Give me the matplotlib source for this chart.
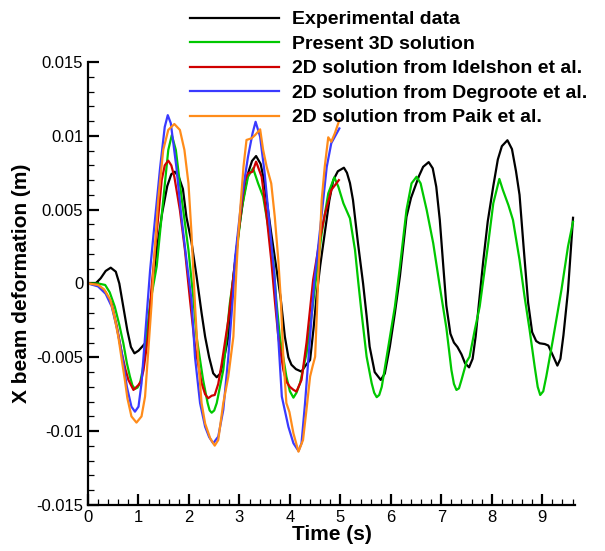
"""
Beam X deformation vs time: experiment against 3D and 2D solutions.
"""
import matplotlib
matplotlib.use("Agg")
import matplotlib.pyplot as plt
from matplotlib.ticker import MultipleLocator, FuncFormatter

plt.rcParams["font.family"] = ["Liberation Sans", "DejaVu Sans"]
plt.rcParams["axes.unicode_minus"] = False

# deformation values are read in units of 1e-3 m
t_exp = [0.0, 0.15, 0.25, 0.35, 0.45, 0.55, 0.62, 0.7, 0.78, 0.85,
         0.92, 1.0, 1.08, 1.13, 1.2, 1.28, 1.37, 1.47, 1.57, 1.65,
         1.72, 1.8, 1.88, 1.95, 2.05, 2.15, 2.25, 2.32, 2.4, 2.48,
         2.55, 2.62, 2.7, 2.78, 2.88, 2.98, 3.08, 3.17, 3.25, 3.33,
         3.42, 3.48, 3.54, 3.63, 3.73, 3.82, 3.9, 3.97, 4.03, 4.12,
         4.23, 4.3, 4.4, 4.47, 4.53, 4.6, 4.69, 4.78, 4.86, 4.95,
         5.07, 5.13, 5.19, 5.25, 5.35, 5.45, 5.52, 5.58, 5.68, 5.8,
         5.88, 5.98, 6.08, 6.18, 6.31, 6.4, 6.48, 6.56, 6.64, 6.75,
         6.83, 6.9, 6.97, 7.04, 7.1, 7.18, 7.25, 7.32, 7.4, 7.47,
         7.55, 7.62, 7.68, 7.75, 7.83, 7.92, 8.03, 8.12, 8.2, 8.31,
         8.4, 8.48, 8.55, 8.63, 8.72, 8.8, 8.88, 8.95, 9.05, 9.12,
         9.2, 9.3, 9.36, 9.42, 9.51, 9.61]
v_exp = [0.0, 0.0, 0.35, 0.85, 1.07, 0.8, 0.0, -1.6, -3.2, -4.3,
         -4.73, -4.55, -4.25, -4.05, -2.6, 0.0, 2.5, 4.8, 6.6, 7.4,
         7.57, 7.2, 6.4, 4.5, 2.8, 0.5, -2.0, -3.6, -5.0, -6.08,
         -6.35, -6.1, -5.0, -3.6, 0.5, 3.4, 5.8, 7.46, 8.3, 8.63,
         8.1, 7.1, 5.65, 3.4, 1.1, -1.1, -3.6, -5.0, -5.5, -5.8,
         -5.97, -5.6, -5.18, -3.0, -0.8, 1.2, 3.4, 5.6, 7.0, 7.6,
         7.84, 7.5, 6.8, 5.65, 2.7, 0.0, -2.2, -4.28, -6.0, -6.53,
         -6.1, -4.28, -2.0, 0.5, 4.52, 5.8, 6.55, 7.3, 7.9, 8.22,
         7.8, 6.55, 4.3, 1.14, -1.5, -3.4, -4.0, -4.3, -4.8, -5.4,
         -5.68, -5.1, -3.6, -1.2, 1.5, 4.2, 6.6, 8.4, 9.3, 9.7,
         9.1, 7.6, 6.0, 2.5, -1.3, -3.3, -3.9, -4.05, -4.1, -4.2,
         -4.8, -5.56, -5.1, -3.5, -0.5, 4.45]

t_3d = [0.0, 0.2, 0.34, 0.43, 0.53, 0.62, 0.70, 0.77, 0.83, 0.88,
        0.93, 0.98, 1.03, 1.08, 1.13, 1.23, 1.36, 1.49, 1.59, 1.66,
        1.74, 1.86, 1.99, 2.09, 2.15, 2.28, 2.37, 2.41, 2.45, 2.5,
        2.55, 2.68, 2.81, 2.91, 3.04, 3.17, 3.27, 3.37, 3.47, 3.57,
        3.67, 3.73, 3.80, 3.93, 4.0, 4.07, 4.13, 4.2, 4.33, 4.46,
        4.55, 4.63, 4.76, 4.88, 4.96, 5.06, 5.19, 5.29, 5.35, 5.42,
        5.52, 5.62, 5.67, 5.72, 5.77, 5.82, 5.95, 6.08, 6.18, 6.31,
        6.41, 6.51, 6.59, 6.71, 6.84, 6.97, 7.1, 7.2, 7.25, 7.3,
        7.35, 7.4, 7.5, 7.56, 7.66, 7.76, 7.93, 8.03, 8.15, 8.22,
        8.33, 8.42, 8.55, 8.65, 8.75, 8.85, 8.91, 8.96, 9.02, 9.08,
        9.21, 9.38, 9.51, 9.61]
v_3d = [0.0, 0.0, -0.1, -0.6, -1.57, -2.8, -4.05, -5.4, -6.3, -6.9,
        -7.14, -7.05, -6.75, -5.9, -4.73, -1.34, 1.14, 5.65, 9.04, 10.05,
        9.04, 5.65, 2.27, -1.1, -3.6, -6.53, -8.1, -8.6, -8.75, -8.6,
        -8.1, -5.86, -1.34, 1.14, 4.98, 7.23, 7.8, 6.78, 5.88, 3.85,
        1.6, -1.1, -3.6, -6.3, -7.3, -7.73, -7.4, -6.75, -4.73, -1.34,
        1.3, 3.4, 6.1, 7.19, 6.55, 5.43, 4.41, 2.27, 0.24, -2.0,
        -4.96, -6.75, -7.4, -7.7, -7.55, -7.0, -4.28, -1.57, 1.14, 4.98,
        6.78, 7.23, 6.78, 4.98, 2.72, -0.2, -3.0, -5.86, -6.8, -7.21,
        -7.1, -6.53, -5.3, -4.96, -3.2, -1.57, 2.72, 5.43, 7.08, 6.33,
        5.3, 4.3, 1.6, -0.9, -3.15, -5.63, -7.0, -7.55, -7.3, -6.3,
        -3.83, -0.44, 2.5, 4.18]

t_idel = [0.0, 0.2, 0.35, 0.47, 0.57, 0.67, 0.74, 0.80, 0.90, 1.0,
          1.05, 1.1, 1.19, 1.26, 1.36, 1.46, 1.52, 1.59, 1.65, 1.71,
          1.82, 1.92, 2.02, 2.12, 2.25, 2.32, 2.38, 2.45, 2.51, 2.58,
          2.65, 2.78, 2.88, 2.98, 3.05, 3.11, 3.17, 3.26, 3.33, 3.44,
          3.54, 3.63, 3.7, 3.77, 3.87, 3.93, 4.0, 4.07, 4.13, 4.23,
          4.33, 4.46, 4.59, 4.69, 4.82, 4.97]
v_idel = [0.0, -0.1, -0.6, -1.4, -2.9, -4.73, -5.8, -6.53, -7.21, -6.87,
          -6.6, -5.86, -3.6, -0.2, 3.4, 7.0, 8.0, 8.32, 8.0, 7.23,
          4.98, 2.27, -1.1, -4.28, -6.75, -7.5, -7.77, -7.6, -7.55, -6.8,
          -5.4, -2.47, 0.46, 3.4, 5.5, 7.0, 7.46, 7.57, 8.25, 7.23,
          4.52, 1.6, -1.1, -3.6, -5.86, -6.65, -7.0, -7.2, -7.32, -6.53,
          -4.0, 0.24, 2.95, 4.64, 6.33, 7.0]

t_degr = [0.0, 0.2, 0.35, 0.47, 0.57, 0.67, 0.77, 0.86, 0.93, 1.0,
          1.06, 1.13, 1.23, 1.30, 1.43, 1.52, 1.58, 1.64, 1.75, 1.85,
          1.95, 2.05, 2.12, 2.22, 2.32, 2.4, 2.48, 2.58, 2.68, 2.78,
          2.88, 2.91, 3.04, 3.17, 3.26, 3.32, 3.41, 3.50, 3.60, 3.69,
          3.74, 3.84, 3.97, 4.07, 4.17, 4.23, 4.30, 4.40, 4.48, 4.59,
          4.73, 4.82, 4.98]
v_degr = [0.0, -0.2, -0.7, -1.57, -3.0, -4.73, -7.0, -8.34, -8.68, -8.34,
          -6.75, -3.6, 0.9, 3.4, 7.9, 10.6, 11.4, 10.85, 7.9, 4.52,
          1.6, -1.1, -5.0, -8.1, -9.7, -10.4, -10.82, -10.37, -8.56, -4.96,
          -0.44, 1.6, 5.65, 8.59, 10.17, 10.95, 9.94, 7.46, 3.85, 0.69,
          -2.0, -7.66, -9.7, -10.82, -11.34, -10.82, -8.1, -3.6, 0.0, 3.4,
          7.9, 9.5, 10.5]

t_paik = [0.0, 0.2, 0.32, 0.44, 0.52, 0.6, 0.67, 0.73, 0.78, 0.86,
          0.96, 1.06, 1.13, 1.19, 1.26, 1.30, 1.39, 1.49, 1.59, 1.71,
          1.82, 1.91, 1.99, 2.05, 2.12, 2.18, 2.25, 2.32, 2.42, 2.51,
          2.58, 2.68, 2.78, 2.88, 2.94, 2.98, 3.08, 3.14, 3.24, 3.31,
          3.41, 3.47, 3.54, 3.63, 3.70, 3.77, 3.82, 3.87, 3.93, 3.99,
          4.07, 4.17, 4.26, 4.33, 4.40, 4.45, 4.50, 4.56, 4.63, 4.69,
          4.76, 4.82, 4.89, 4.98]
v_paik = [0.0, -0.1, -0.4, -1.1, -2.2, -3.6, -5.2, -6.53, -7.77, -9.0,
          -9.42, -9.0, -7.66, -4.73, -1.34, 1.14, 5.65, 9.04, 10.4, 10.8,
          10.4, 9.04, 6.78, 3.4, -1.5, -5.0, -8.1, -9.48, -10.48, -10.98,
          -10.6, -8.1, -6.3, -3.6, 0.9, 3.4, 7.9, 9.72, 9.83, 10.05,
          10.44, 9.04, 7.9, 6.78, 4.52, 1.6, -1.1, -5.0, -8.1, -8.7,
          -10.15, -11.39, -10.6, -8.5, -6.3, -5.6, -4.96, 0.24, 5.65, 7.9,
          9.9, 9.6, 10.17, 11.07]

series = [
    ("Experimental data", t_exp, v_exp, "black"),
    ("Present 3D solution", t_3d, v_3d, "#00c800"),
    ("2D solution from Idelshon et al.", t_idel, v_idel, "#d00000"),
    ("2D solution from Degroote et al.", t_degr, v_degr, "#3a3aff"),
    ("2D solution from Paik et al.", t_paik, v_paik, "#ff8c1a"),
]


def main():
    fig = plt.figure(figsize=(6.05, 5.51), dpi=100)
    ax = fig.add_axes([0.1455, 0.0835, 0.805, 0.804])

    for label, t, v, color in series:
        ax.plot(t, [x * 1e-3 for x in v], color=color, lw=1.6, label=label,
                solid_joinstyle="round")

    ax.set_xlim(0, 9.65)
    ax.set_ylim(-0.015, 0.015)
    ax.xaxis.set_major_locator(MultipleLocator(1))
    ax.xaxis.set_minor_locator(MultipleLocator(0.2))
    ax.yaxis.set_major_locator(MultipleLocator(0.005))
    ax.yaxis.set_minor_locator(MultipleLocator(0.001))
    ax.yaxis.set_major_formatter(FuncFormatter(lambda y, _: f"{round(y, 4):g}"))

    for side in ("top", "right"):
        ax.spines[side].set_visible(False)
    for side in ("left", "bottom"):
        ax.spines[side].set_linewidth(1.6)
    ax.tick_params(which="major", direction="in", length=8, width=1.6, labelsize=12)
    ax.tick_params(which="minor", direction="in", length=4, width=0.9)

    ax.set_xlabel("Time (s)", fontsize=15, fontweight="bold", labelpad=0)
    ax.set_ylabel("X beam deformation (m)", fontsize=15, fontweight="bold", labelpad=4)

    ax.legend(loc="upper left", bbox_to_anchor=(180 / 605, 1 - 1 / 551),
              bbox_transform=fig.transFigure, frameon=False, borderpad=0,
              handlelength=4.6, handletextpad=0.65, labelspacing=0.355,
              prop={"weight": "bold", "size": 14})

    fig.savefig("out.png", dpi=100)
    plt.close(fig)


if __name__ == "__main__":
    main()
